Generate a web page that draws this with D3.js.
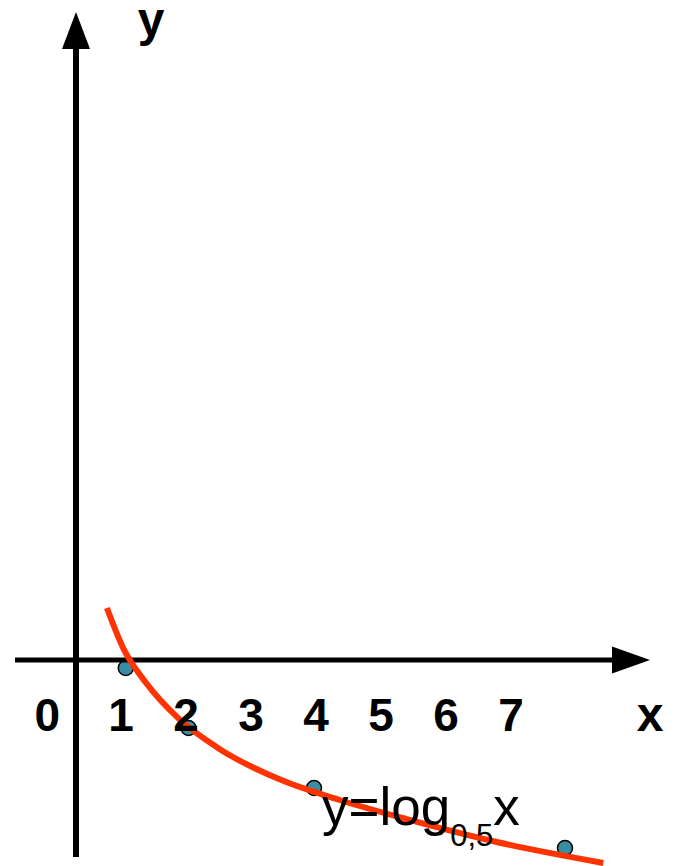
<!DOCTYPE html>
<html>
<head>
<meta charset="utf-8">
<script src="https://cdn.jsdelivr.net/npm/d3@7"></script>
<style>
  html, body { margin: 0; padding: 0; background: #fff; }
  text { font-family: "Liberation Sans", Arial, sans-serif; }
</style>
</head>
<body>
<div id="graph"></div>
<script>
// points of y = log0.5(x)
let pointX = [1, 2, 4, 8];
let pointY = [0, -1, -2, -3];

// curve
let curveX = [0.70, 0.96, 1.31, 1.84, 2.48, 3.46, 4.41, 5.48, 6.91, 8.61];
let curveY = [1.00, 0.33, -0.23, -0.84, -1.34, -1.86, -2.20, -2.52, -2.90, -3.25];

let tickLabels = ["1", "2", "3", "4", "5", "6", "7"];
let tickValues = [1, 2, 3, 4, 5, 6, 7];

let options = {
  width: 676,
  height: 866,
  axisX: 76,
  axisY: 660
};

let svg = d3.select("#graph")
  .append("svg")
  .attr("width", options.width)
  .attr("height", options.height);

let xScale = d3.scaleLinear().domain([0, 8]).range([63, 565]);
let yScale = d3.scaleLinear().domain([0, -3]).range([668, 848]);
let tickScale = d3.scaleLinear().domain([1, 7]).range([121, 511]);

// dots
svg.selectAll("circle.dot")
  .data(pointX.map((d, i) => ({ x: d, y: pointY[i] })))
  .enter()
  .append("circle")
  .attr("class", "dot")
  .attr("cx", d => xScale(d.x))
  .attr("cy", d => yScale(d.y))
  .attr("r", 7.5)
  .attr("fill", "#3a8ea3")
  .attr("stroke", "#000")
  .attr("stroke-width", 1.5);

// axes
svg.append("line")
  .attr("x1", 15).attr("x2", 614)
  .attr("y1", options.axisY).attr("y2", options.axisY)
  .attr("stroke", "#000").attr("stroke-width", 5);

svg.append("path")
  .attr("d", `M650,${options.axisY} L612,${options.axisY - 13.5} L612,${options.axisY + 13.5} Z`)
  .attr("fill", "#000");

svg.append("line")
  .attr("x1", options.axisX).attr("x2", options.axisX)
  .attr("y1", 857).attr("y2", 47)
  .attr("stroke", "#000").attr("stroke-width", 6);

svg.append("path")
  .attr("d", `M${options.axisX},12 L${options.axisX - 14},49 L${options.axisX + 14},49 Z`)
  .attr("fill", "#000");

// curve
let line = d3.line()
  .x(d => xScale(d.x))
  .y(d => yScale(d.y))
  .curve(d3.curveMonotoneX);

svg.append("path")
  .datum(curveX.map((d, i) => ({ x: d, y: curveY[i] })))
  .attr("d", line)
  .attr("fill", "none")
  .attr("stroke", "#ff3300")
  .attr("stroke-width", 6);

// tick labels
svg.selectAll("text.tick")
  .data(tickValues)
  .enter()
  .append("text")
  .attr("class", "tick")
  .attr("x", d => tickScale(d))
  .attr("y", 731)
  .attr("text-anchor", "middle")
  .attr("font-size", 46)
  .attr("font-weight", "bold")
  .text((d, i) => tickLabels[i]);

svg.append("text")
  .attr("x", options.axisX - 16)
  .attr("y", 731)
  .attr("text-anchor", "end")
  .attr("font-size", 46)
  .attr("font-weight", "bold")
  .text("0");

// axis names
svg.append("text")
  .attr("x", 650).attr("y", 731)
  .attr("text-anchor", "middle")
  .attr("font-size", 48)
  .attr("font-weight", "bold")
  .text("x");

svg.append("text")
  .attr("x", 151).attr("y", 36)
  .attr("text-anchor", "middle")
  .attr("font-size", 48)
  .attr("font-weight", "bold")
  .text("y");

// function label
let label = svg.append("text")
  .attr("x", 322).attr("y", 825)
  .attr("font-size", 53);

label.append("tspan").text("y=log");
label.append("tspan").attr("font-size", 31).attr("dy", 21).text("0,5");
label.append("tspan").attr("dy", -21).text("x");
</script>
</body>
</html>
